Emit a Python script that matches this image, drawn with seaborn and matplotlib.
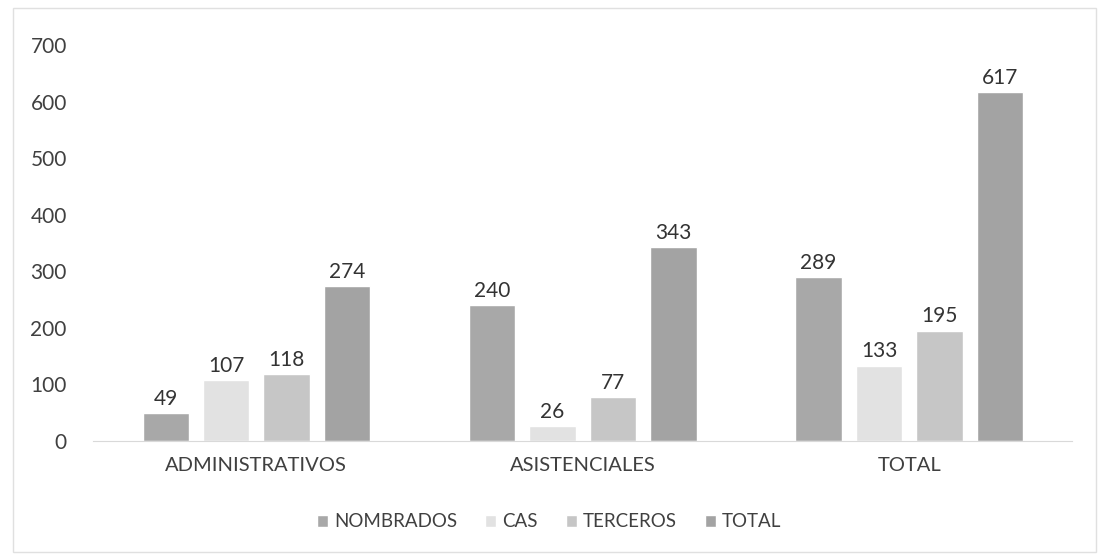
import matplotlib.pyplot as plt
import pandas as pd
import seaborn as sns

categories = ['ADMINISTRATIVOS', 'ASISTENCIALES', 'TOTAL']
series = ['NOMBRADOS', 'CAS', 'TERCEROS', 'TOTAL']
nombrados = [49, 240, 289]
cas = [107, 26, 133]
terceros = [118, 77, 195]
total = [274, 343, 617]
colors = ['#a8a8a8', '#e2e2e2', '#c6c6c6', '#a3a3a3']

rows = []
for name, vals in zip(series, [nombrados, cas, terceros, total]):
    for cat, v in zip(categories, vals):
        rows.append({'grupo': cat, 'serie': name, 'valor': v})
df = pd.DataFrame(rows)

sns.set_style('white')
plt.rcParams['font.family'] = ['Lato', 'DejaVu Sans']

fig = plt.figure(figsize=(11.09, 5.58), dpi=100)
ax = fig.add_axes([0.084, 0.21, 0.883, 0.709])

sns.barplot(data=df, x='grupo', y='valor', hue='serie', order=categories,
            hue_order=series, palette=colors, width=0.74, gap=0.23,
            saturation=1, ax=ax, legend=True)

for cont in ax.containers:
    ax.bar_label(cont, fontsize=15, color='#333333', padding=3)

ax.set_ylim(0, 700)
ax.set_yticks(range(0, 701, 100))
ax.set_xlim(-0.5, 2.5)
ax.set_xlabel('')
ax.set_ylabel('')
for s in ['top', 'right', 'left']:
    ax.spines[s].set_visible(False)
ax.spines['bottom'].set_color('#d9d9d9')
ax.tick_params(axis='y', labelsize=15, colors='#404040', length=0, pad=19)
ax.tick_params(axis='x', labelsize=14.5, colors='#404040', length=0, pad=12)

handles, labels = ax.get_legend_handles_labels()
ax.get_legend().remove()
leg = fig.legend(handles, labels, loc='center', bbox_to_anchor=(0.495, 0.065), ncol=4,
                 frameon=False, fontsize=13.5, handlelength=0.6, handleheight=0.6,
                 columnspacing=1.5, handletextpad=0.3)
for t in leg.get_texts():
    t.set_color('#404040')

fig.patches.append(plt.Rectangle((0.012, 0.01), 0.976, 0.975, transform=fig.transFigure,
                                 fill=False, edgecolor='#e0e0e0', linewidth=1))

fig.savefig('out.png', dpi=100)
